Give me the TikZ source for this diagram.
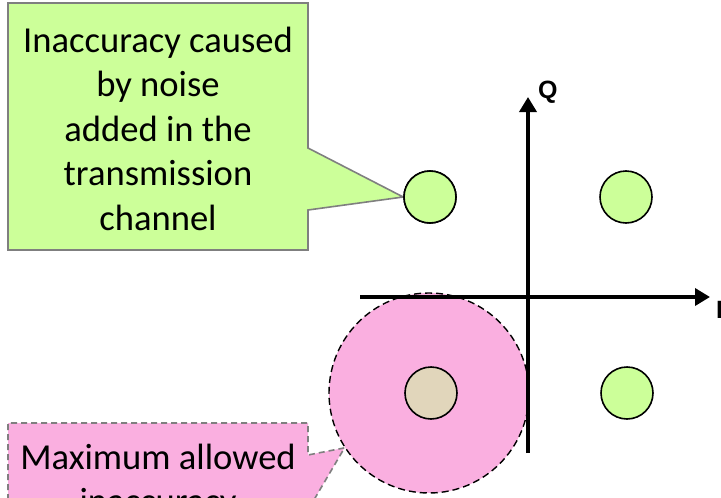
\documentclass[tikz,border=0pt]{standalone}
\usepackage{fontspec}
\setmainfont{Carlito}
\newfontfamily\axisfont{Liberation Sans}
\usetikzlibrary{arrows.meta}
\definecolor{calloutgreen}{HTML}{CCFF99}
\definecolor{pointgreen}{HTML}{CCFF99}
\definecolor{pointtan}{HTML}{E1D6BB}
\definecolor{regionpink}{HTML}{FAAFE0}
\definecolor{bordergray}{HTML}{7F7F7F}
\tikzset{
  pt/.style={circle, draw=black, line width=1.6pt, minimum size=52pt, inner sep=0pt},
  axisline/.style={line width=3.6pt, -{Triangle[length=15pt,width=17pt]}},
  callouttext/.style={font=\fontsize{36.6pt}{44.5pt}\selectfont, align=center, inner sep=0pt, anchor=base},
  axislabel/.style={font=\axisfont\bfseries\fontsize{25pt}{30pt}\selectfont, inner sep=0pt, anchor=base west},
}
\begin{document}
\begin{tikzpicture}[x=1pt, y=-1pt]
  \useasboundingbox (0,0) rectangle (721,498);
  \clip (0,0) rectangle (721,498);

  % constellation points and the allowed-error region
  \node[circle, draw=black, dashed, dash pattern=on 7pt off 4pt, line width=1.4pt,
        fill=regionpink, minimum size=200pt, inner sep=0pt] (region) at (429,393) {};
  \node[pt, fill=pointgreen] (p1) at (430,197) {};
  \node[pt, fill=pointgreen] (p2) at (626,197) {};
  \node[pt, fill=pointtan]   (p3) at (431,393) {};
  \node[pt, fill=pointgreen] (p4) at (627,393) {};

  % callout: noise
  \fill[calloutgreen] (8,3) -- (308,3) -- (308,148) -- (p1.west) -- (308,210) -- (308,250) -- (8,250) -- cycle;
  \draw[bordergray, line width=1.6pt, line join=miter]
    (8,3) -- (308,3) -- (308,148) -- (p1.west) -- (308,210) -- (308,250) -- (8,250) -- cycle;
  \node[pt, fill=pointgreen] at (p1) {};
  \node[callouttext] (noise) at (158,230)
    {Inaccuracy caused\\by noise\\added in the\\transmission\\channel};

  % callout: allowed inaccuracy
  \coordinate (tipB) at (region.213);
  \fill[regionpink] (8,423) -- (308,423) -- (308,455) -- (tipB) -- (308,510) -- (308,560) -- (8,560) -- cycle;
  \draw[bordergray, line width=1.6pt, dashed, dash pattern=on 6pt off 4pt]
    (8,560) -- (8,423) -- (308,423) -- (308,455) -- (tipB) -- (308,510) -- (308,560);
  \node[callouttext] (limit) at (158,513.5) {Maximum allowed\\inaccuracy};

  % I/Q axes
  \coordinate (iStart) at (360,297);
  \coordinate (iEnd) at (710,297);
  \coordinate (qStart) at (528,453);
  \coordinate (qEnd) at (528,97);
  \draw[axisline] (iStart) -- (iEnd);
  \draw[axisline] (qStart) -- (qEnd);
  \node[axislabel] (qlab) at (538,98) {Q};
  \node[axislabel] (ilab) at (716,318) {I};
\end{tikzpicture}
\end{document}
